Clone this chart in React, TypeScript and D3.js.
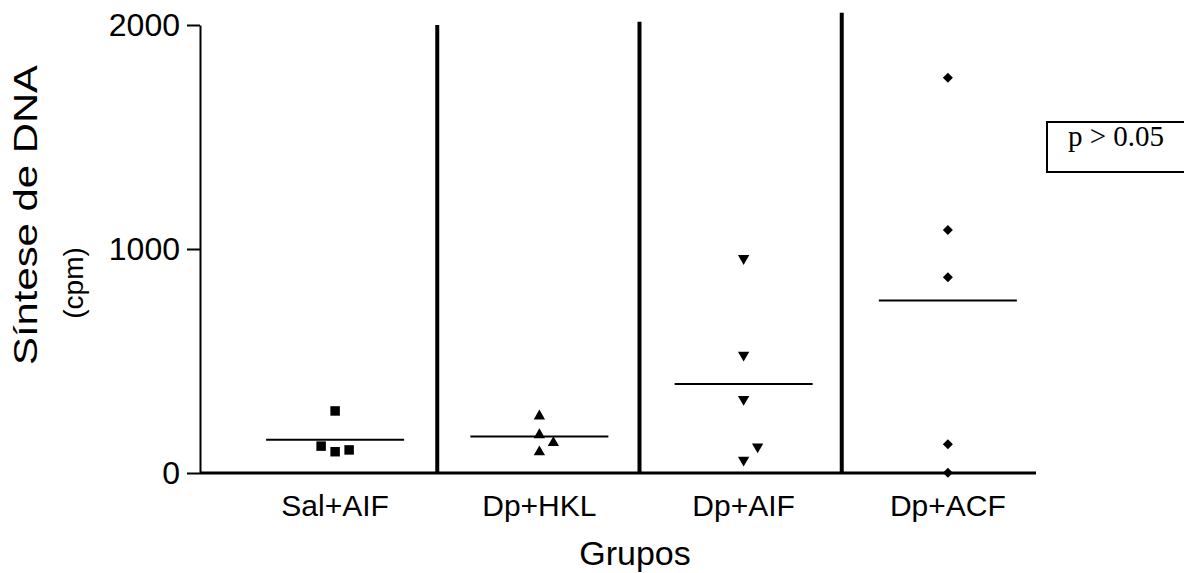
import React, { useEffect, useRef } from 'react';
import * as d3 from 'd3';

// groups and their DNA synthesis values (cpm)
const groups = ['Sal+AIF', 'Dp+HKL', 'Dp+AIF', 'Dp+ACF'];
const salAIF = [277, 120, 95, 103];
const dpHKL = [254, 170, 135, 94];
const dpAIF = [958, 527, 329, 117, 58];
const dpACF = [1765, 1085, 874, 128, 1];
const yTicks = [0, 1000, 2000];
const separatorTops = [2000, 2015, 2055];
const statText = 'p > 0.05';

const App = () => {
  const svgRef = useRef<SVGSVGElement>(null);

  useEffect(() => {
    const svg = d3.select(svgRef.current);
    const width = 1184;
    const height = 573;
    const margin = { top: 25, bottom: 100, left: 200, axisRight: 1036 };
    const sans = '"Liberation Sans", Arial, sans-serif';

    svg.attr('width', width).attr('height', height);
    svg.selectAll('*').remove();

    const x = d3.scaleBand<string>()
      .domain(groups)
      .range([233, 1050]);

    const y = d3.scaleLinear()
      .domain([0, 2000])
      .range([height - margin.bottom, margin.top]);

    const series = [salAIF, dpHKL, dpAIF, dpACF];
    const symbols = [d3.symbolSquare, d3.symbolTriangle, d3.symbolTriangle, d3.symbolDiamond2];
    const sizes = [90, 56, 56, 64];
    const rotations = [0, 0, 180, 0];

    // y axis
    const yAxis = svg.append('g')
      .attr('transform', `translate(${margin.left},0)`)
      .call(d3.axisLeft(y).tickValues(yTicks).tickSize(13).tickSizeOuter(0).tickPadding(7).tickFormat(d3.format('d')));
    yAxis.select('.domain').attr('stroke', '#000').attr('stroke-width', 2);
    yAxis.selectAll('.tick line').attr('stroke', '#000').attr('stroke-width', 2);
    yAxis.selectAll('.tick text')
      .attr('font-family', sans)
      .attr('font-size', 32)
      .attr('fill', '#000');

    // x axis line
    svg.append('line')
      .attr('x1', margin.left)
      .attr('x2', margin.axisRight)
      .attr('y1', y(0))
      .attr('y2', y(0))
      .attr('stroke', '#000')
      .attr('stroke-width', 3);

    // separators between groups
    groups.slice(1).forEach((g, i) => {
      svg.append('line')
        .attr('x1', x(g) - i * 2)
        .attr('x2', x(g) - i * 2)
        .attr('y1', y(0))
        .attr('y2', y(separatorTops[i]))
        .attr('stroke', '#000')
        .attr('stroke-width', 4);
    });

    // category labels
    svg.append('g').selectAll('text')
      .data(groups)
      .join('text')
      .attr('x', d => x(d) + x.bandwidth() / 2)
      .attr('y', 516)
      .attr('text-anchor', 'middle')
      .attr('font-family', sans)
      .attr('font-size', 30)
      .text(d => d);

    // points, nudged sideways when they'd overlap (like Prism)
    const step = 14;
    series.forEach((vals, gi) => {
      const cx = x(groups[gi]) + x.bandwidth() / 2;
      const placed: { py: number; col: number }[] = [];
      const sorted = vals.slice().sort((a, b) => a - b);
      sorted.forEach(v => {
        const py = y(v);
        let col = 0;
        for (const c of [0, 1, -1, 2, -2]) {
          if (!placed.some(p => p.col === c && Math.abs(p.py - py) < 14)) { col = c; break; }
        }
        placed.push({ py, col });
        svg.append('path')
          .attr('d', d3.symbol().type(symbols[gi]).size(sizes[gi])())
          .attr('transform', `translate(${cx + col * step},${py}) rotate(${rotations[gi]})`)
          .attr('fill', '#000');
      });

      // mean line
      const m = d3.mean(vals);
      svg.append('line')
        .attr('x1', cx - 69)
        .attr('x2', cx + 69)
        .attr('y1', y(m))
        .attr('y2', y(m))
        .attr('stroke', '#000')
        .attr('stroke-width', 2);
    });

    // axis titles
    svg.append('text')
      .attr('transform', 'translate(37,215) rotate(-90)')
      .attr('text-anchor', 'middle')
      .attr('font-family', sans)
      .attr('font-size', 34)
      .attr('textLength', 300)
      .attr('lengthAdjust', 'spacingAndGlyphs')
      .text('Síntese de DNA');

    svg.append('text')
      .attr('transform', 'translate(83,283) rotate(-90)')
      .attr('text-anchor', 'middle')
      .attr('font-family', sans)
      .attr('font-size', 28)
      .text('(cpm)');

    svg.append('text')
      .attr('x', 635)
      .attr('y', 565)
      .attr('text-anchor', 'middle')
      .attr('font-family', sans)
      .attr('font-size', 34)
      .text('Grupos');

    // stats box (runs off the right edge)
    svg.append('rect')
      .attr('x', 1047)
      .attr('y', 122)
      .attr('width', 150)
      .attr('height', 50)
      .attr('fill', 'none')
      .attr('stroke', '#000')
      .attr('stroke-width', 2);

    svg.append('text')
      .attr('x', 1068)
      .attr('y', 146)
      .attr('font-family', '"Liberation Serif", "Times New Roman", serif')
      .attr('font-size', 29)
      .text(statText);
  }, []);

  return (
    <svg ref={svgRef} style={{ position: 'absolute', left: 0, top: 0, display: 'block', background: '#fff' }}></svg>
  );
};

export default App;
